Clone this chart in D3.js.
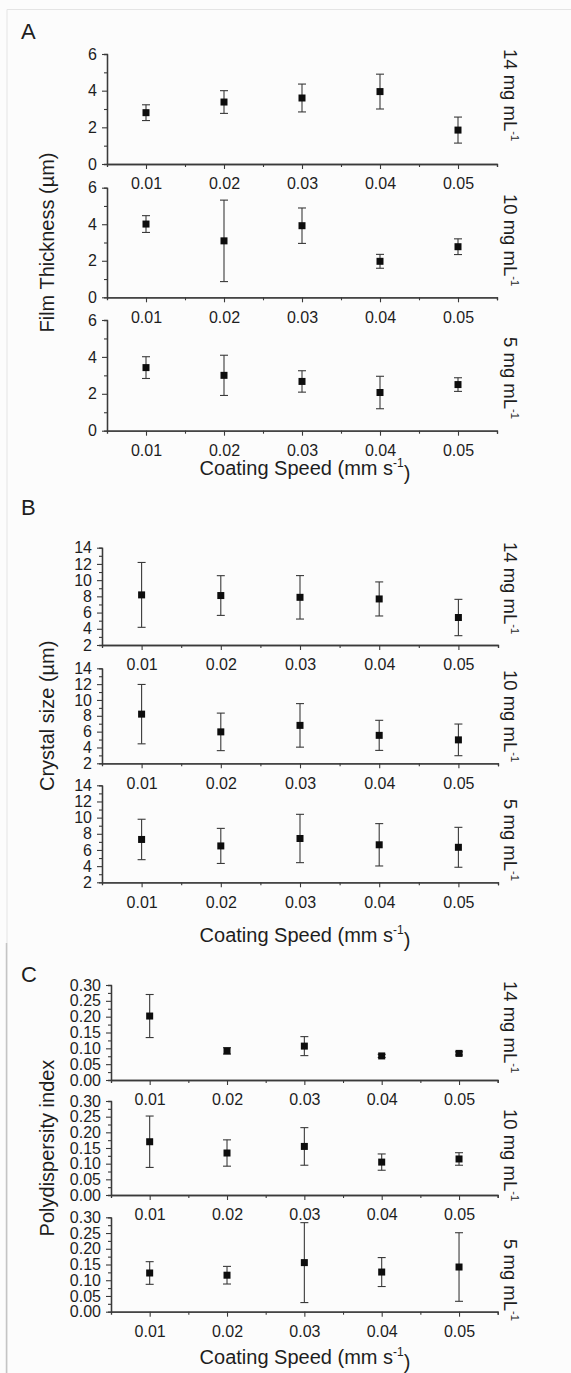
<!DOCTYPE html>
<html>
<head>
<meta charset="utf-8">
<script src="https://cdn.jsdelivr.net/npm/d3@7"></script>
<style>
  body { margin: 0; background: #fff; }
  svg { display: block; font-family: "Liberation Sans", Arial, sans-serif; }
</style>
</head>
<body>
<svg id="chart" width="571" height="1373"></svg>
<script>
// ---------------- Data ----------------
const speeds = [0.01, 0.02, 0.03, 0.04, 0.05];
const speedTicks = ["0.01", "0.02", "0.03", "0.04", "0.05"];
const concentrations = ["14", "10", "5"];   // mg mL-1, top to bottom

// A: film thickness (µm), mean and error
const thick14 = [2.80, 3.38, 3.60, 3.95, 1.85];
const thick14Err = [0.43, 0.62, 0.76, 0.95, 0.71];
const thick10 = [4.01, 3.09, 3.92, 1.97, 2.77];
const thick10Err = [0.46, 2.23, 0.97, 0.38, 0.43];
const thick5 = [3.42, 3.00, 2.67, 2.07, 2.50];
const thick5Err = [0.59, 1.09, 0.58, 0.88, 0.37];

// B: crystal size (µm)
const crystal14 = [8.18, 8.10, 7.88, 7.68, 5.39];
const crystal14Err = [4.00, 2.45, 2.68, 2.10, 2.24];
const crystal10 = [8.21, 5.97, 6.79, 5.53, 4.96];
const crystal10Err = [3.75, 2.37, 2.75, 1.90, 2.00];
const crystal5 = [7.30, 6.50, 7.42, 6.64, 6.33];
const crystal5Err = [2.50, 2.17, 2.99, 2.62, 2.47];

// C: polydispersity index
const pdi14 = [0.202, 0.092, 0.107, 0.076, 0.084];
const pdi14Err = [0.068, 0.010, 0.030, 0.005, 0.005];
const pdi10 = [0.170, 0.134, 0.155, 0.105, 0.115];
const pdi10Err = [0.082, 0.042, 0.060, 0.026, 0.020];
const pdi5 = [0.123, 0.116, 0.156, 0.126, 0.142];
const pdi5Err = [0.036, 0.028, 0.127, 0.046, 0.109];

// y-axis ticks
const thickTicks = [0, 2, 4, 6];
const thickMinor = [1, 3, 5];
const crystalTicks = [2, 4, 6, 8, 10, 12, 14];
const crystalMinor = [3, 5, 7, 9, 11, 13];
const pdiTicks = [0, 0.05, 0.10, 0.15, 0.20, 0.25, 0.30];
const pdiMinor = [0.025, 0.075, 0.125, 0.175, 0.225, 0.275];

// ---------------- Layout ----------------
const panels = [
  {
    letter: "A", letterY: 39, yTitle: "Film Thickness (\u00b5m)",
    x0: 107, x1: 497, rows: [[54, 164], [187.7, 297.3], [320, 430.7]],
    labelY: [95, 240, 378], titleY: 475,
    domain: [0, 6], ticks: thickTicks, minor: thickMinor, fmt: d3.format("d"),
    series: [[thick14, thick14Err], [thick10, thick10Err], [thick5, thick5Err]]
  },
  {
    letter: "B", letterY: 515, yTitle: "Crystal size (\u00b5m)",
    x0: 102, x1: 498, rows: [[547.7, 645], [668.3, 763.3], [785.3, 882.3]],
    labelY: [588, 716, 840], titleY: 942,
    domain: [2, 14], ticks: crystalTicks, minor: crystalMinor, fmt: d3.format("d"),
    series: [[crystal14, crystal14Err], [crystal10, crystal10Err], [crystal5, crystal5Err]]
  },
  {
    letter: "C", letterY: 982, yTitle: "Polydispersity index",
    x0: 111, x1: 497.7, rows: [[985, 1080], [1101, 1195], [1217.3, 1311.7]],
    labelY: [1027, 1155, 1280], titleY: 1364,
    domain: [0, 0.30], ticks: pdiTicks, minor: pdiMinor, fmt: d3.format(".2f"),
    series: [[pdi14, pdi14Err], [pdi10, pdi10Err], [pdi5, pdi5Err]]
  }
];

const axisColor = "#3a3a3a";
const textColor = "#1e1e1e";

const svg = d3.select("#chart");

// background and faint page borders
svg.append("rect").attr("width", 571).attr("height", 1373).attr("fill", "#fcfcfc");
svg.append("path").attr("d", "M7,1373V9.5H571").attr("fill", "none").attr("stroke", "#e4e4e4");
svg.append("line").attr("x1", 6.5).attr("x2", 6.5).attr("y1", 943).attr("y2", 1373)
  .attr("stroke", "#c4c4c4").attr("stroke-width", 1.5);

function styleAxis(g) {
  g.select(".domain").attr("stroke", axisColor).attr("stroke-width", 1.3);
  g.selectAll(".tick line").attr("stroke", axisColor).attr("stroke-width", 1.1);
  g.selectAll(".tick text").attr("fill", textColor).attr("font-size", 16);
}

function superTitle(sel, main, sup, tail) {
  sel.append("tspan").text(main);
  sel.append("tspan").attr("font-size", "0.6em").attr("dy", "-0.65em").text(sup);
  sel.append("tspan").attr("dy", "0.65em").text(tail);
}

panels.forEach(p => {
  const x = d3.scaleLinear().domain([0.005, 0.055]).range([p.x0, p.x1]);
  const root = svg.append("g");

  root.append("text")
    .attr("x", 21).attr("y", p.letterY)
    .attr("font-size", 22).attr("fill", textColor)
    .text(p.letter);

  p.rows.forEach(([top, bottom], i) => {
    const y = d3.scaleLinear().domain(p.domain).range([bottom, top]);
    const g = root.append("g");

    // minor ticks first, then major axes on top
    g.append("g").attr("transform", `translate(${p.x0},0)`)
      .call(d3.axisLeft(y).tickValues(p.minor).tickSize(3).tickFormat(""))
      .call(styleAxis);
    g.append("g").attr("transform", `translate(0,${bottom})`)
      .call(d3.axisBottom(x).tickValues([0.015, 0.025, 0.035, 0.045, 0.055]).tickSize(3).tickFormat(""))
      .call(styleAxis);

    g.append("g").attr("transform", `translate(${p.x0},0)`)
      .call(d3.axisLeft(y).tickValues(p.ticks).tickSize(5).tickPadding(5).tickSizeOuter(0).tickFormat(p.fmt))
      .call(styleAxis);
    g.append("g").attr("transform", `translate(0,${bottom})`)
      .call(d3.axisBottom(x).tickValues(speeds).tickSize(5).tickPadding(9).tickSizeOuter(0)
        .tickFormat((d, k) => speedTicks[k]))
      .call(styleAxis);

    const [means, errs] = p.series[i];
    const pts = speeds.map((s, k) => ({ s, m: means[k], e: errs[k] }));

    // error bars
    const eb = g.append("g").attr("stroke", axisColor).attr("stroke-width", 1.1);
    eb.selectAll("line.v").data(pts).enter().append("line")
      .attr("x1", d => x(d.s)).attr("x2", d => x(d.s))
      .attr("y1", d => y(d.m + d.e)).attr("y2", d => y(d.m - d.e));
    eb.selectAll("line.t").data(pts).enter().append("line")
      .attr("x1", d => x(d.s) - 4).attr("x2", d => x(d.s) + 4)
      .attr("y1", d => y(d.m + d.e)).attr("y2", d => y(d.m + d.e));
    eb.selectAll("line.b").data(pts).enter().append("line")
      .attr("x1", d => x(d.s) - 4).attr("x2", d => x(d.s) + 4)
      .attr("y1", d => y(d.m - d.e)).attr("y2", d => y(d.m - d.e));

    // square markers
    g.selectAll("rect.pt").data(pts).enter().append("rect")
      .attr("x", d => x(d.s) - 3.5).attr("y", d => y(d.m) - 3.5)
      .attr("width", 7).attr("height", 7)
      .attr("fill", "#0d0d0d");

    // concentration label, rotated on the right
    const lab = g.append("text")
      .attr("transform", `translate(504,${p.labelY[i]}) rotate(90)`)
      .attr("text-anchor", "middle")
      .attr("font-size", 18.5).attr("fill", textColor);
    superTitle(lab, concentrations[i] + " mg mL", "-1", "");
  });

  // y title
  const midRow = p.rows[1];
  root.append("text")
    .attr("transform", `translate(54,${(midRow[0] + midRow[1]) / 2}) rotate(-90)`)
    .attr("text-anchor", "middle")
    .attr("font-size", 20).attr("fill", textColor)
    .text(p.yTitle);

  // x title
  const xt = root.append("text")
    .attr("x", 305).attr("y", p.titleY)
    .attr("text-anchor", "middle")
    .attr("font-size", 20).attr("fill", textColor);
  superTitle(xt, "Coating Speed (mm s", "-1", ")");
});
</script>
</body>
</html>
